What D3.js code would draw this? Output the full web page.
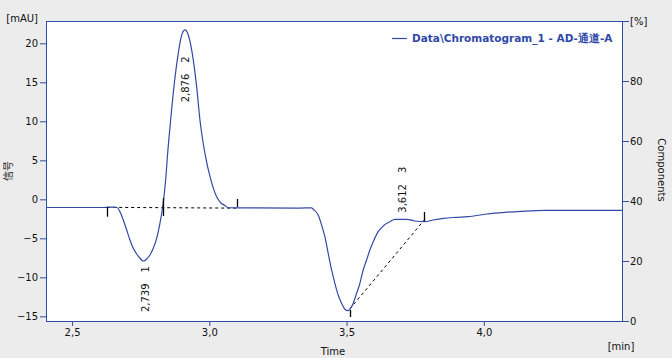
<!DOCTYPE html>
<html><head><meta charset="utf-8">
<script src="https://cdn.jsdelivr.net/npm/d3@7"></script>
<style>
html,body{margin:0;padding:0;background:#ececec;}
svg{display:block;}
text{font-family:"DejaVu Sans",sans-serif;}
</style></head><body>
<script>
// ---- data ----
const times = [2.405,2.602,2.649,2.664,2.6745,2.6865,2.6989,2.7109,2.7229,2.7353,2.7473,2.7593,2.7717,2.7837,2.7958,2.8081,2.8201,2.8300,2.8347,2.8409,2.8482,2.8591,2.8711,2.8868,2.8966,2.9112,2.9221,2.9378,2.9538,2.9658,2.9840,3.0059,3.0266,3.0423,3.0569,3.0678,3.1115,3.3300,3.3726,3.3784,3.3966,3.4090,3.4210,3.4330,3.4454,3.4574,3.4694,3.4818,3.4938,3.5058,3.5241,3.5365,3.5485,3.5605,3.5729,3.5849,3.5970,3.6152,3.6334,3.6577,3.6759,3.7186,3.7488,3.7852,3.8154,3.8519,3.9006,3.9418,4.0110,4.0765,4.1347,4.2221,4.506];
const signal = [-1.05,-1.05,-1.00,-1.05,-1.59,-2.65,-3.94,-5.22,-6.28,-7.01,-7.56,-7.91,-7.65,-7.14,-6.28,-5.00,-3.08,-0.95,0.33,2.47,5.90,10.17,14.44,18.72,20.68,21.71,21.19,18.72,14.44,10.17,5.90,2.47,0.33,-0.47,-0.79,-1.08,-1.10,-1.12,-1.10,-1.28,-2.01,-3.29,-4.79,-6.92,-9.06,-10.77,-12.27,-13.33,-14.10,-14.28,-13.33,-12.05,-10.77,-9.06,-7.78,-6.50,-5.44,-4.15,-3.42,-2.87,-2.56,-2.56,-2.78,-2.87,-2.65,-2.44,-2.31,-2.23,-1.88,-1.67,-1.54,-1.41,-1.41];

const xTicks = [2.5, 3.0, 3.5, 4.0];
const xTickLabels = ["2,5","3,0","3,5","4,0"];
const yTicks = [-15,-10,-5,0,5,10,15,20];
const y2Ticks = [0,20,40,60,80,100];
const y2TickLabels = ["0","20","40","60","80","[%]"];

// peak integration markers: time, top value, bottom value
const markerTimes = [2.628, 2.832, 3.100, 3.512, 3.783];
const markerTop    = [-0.99, 0.17, 0.04, -14.19, -1.63];
const markerBottom = [-2.23, -2.14, -0.99, -15.09, -2.78];

// baselines (dashed)
const baseline1 = [[2.628,-1.03],[3.100,-1.13]];
const baseline2 = [[3.512,-14.05],[3.783,-2.65]];

// peak labels
const peakRT = ["2,739","2,876","3,612"];
const peakIndex = ["1","2","3"];
const peakLabelTime = [2.7801, 2.9257, 3.716];
const peakLabelValue = [-14.45, 12.44, -1.72];

const legendLabel = "Data\\Chromatogram_1 - AD-通道-A";

// ---- chart ----
const W = 672, H = 358;
const L = 46, T = 21, R = 623, B = 321;
const blue = "#2f4ea8", curveCol = "#3449a6";

const svg = d3.select("body").append("svg").attr("width", W).attr("height", H);
svg.append("rect").attr("width", W).attr("height", H).attr("fill", "#ececec");
svg.append("rect").attr("x", L).attr("y", T).attr("width", R-L).attr("height", B-T).attr("fill", "#fff");

const x = d3.scaleLinear().domain([2.405, 4.507]).range([L, R]);
const y = d3.scaleLinear().domain([-15.6, 22.86]).range([B, T]);
const y2 = d3.scaleLinear().domain([0, 100]).range([B, T]);

// axes
const fs = "10px";
const xAxis = d3.axisBottom(x).tickValues(xTicks).tickFormat((d,i)=>xTickLabels[i]).tickSize(5).tickSizeOuter(0);
const gx = svg.append("g").attr("transform", `translate(0,${B})`).call(xAxis);
const yAxis = d3.axisLeft(y).tickValues(yTicks).tickSize(6).tickSizeOuter(0);
const gy = svg.append("g").attr("transform", `translate(${L},0)`).call(yAxis);
const y2Axis = d3.axisRight(y2).tickValues(y2Ticks).tickFormat((d,i)=>y2TickLabels[i]).tickSize(6).tickSizeOuter(0);
const gy2 = svg.append("g").attr("transform", `translate(${R},0)`).call(y2Axis);
[gx, gy, gy2].forEach(g => {
  g.select(".domain").remove();
  g.selectAll(".tick line").attr("stroke", blue);
  g.selectAll(".tick text").attr("fill", "#111").style("font-size", fs).style("font-family", "DejaVu Sans");
});
gx.selectAll(".tick text").attr("dy", "0.71em").attr("y", 8);
gy.selectAll(".tick text").attr("x", -8);
gy2.selectAll(".tick text").attr("x", 7);

// plot frame
svg.append("rect").attr("x", L+0.5).attr("y", T+0.5).attr("width", R-L-1).attr("height", B-T)
  .attr("fill", "none").attr("stroke", blue).attr("stroke-width", 1);

// clip
svg.append("clipPath").attr("id", "clip").append("rect").attr("x", L+1).attr("y", T+1).attr("width", R-L-2).attr("height", B-T-1);
const plot = svg.append("g").attr("clip-path", "url(#clip)");

// baselines
const bl = d3.line().x(d=>x(d[0])).y(d=>y(d[1]));
[baseline1, baseline2].forEach(b => {
  plot.append("path").attr("d", bl(b)).attr("fill","none").attr("stroke","#000")
    .attr("stroke-width",1).attr("stroke-dasharray","3,3");
});

// signal
const pts = times.map((t,i)=>[t, signal[i]]);
const line = d3.line().x(d=>x(d[0])).y(d=>y(d[1])).curve(d3.curveMonotoneX);
plot.append("path").attr("d", line(pts)).attr("fill","none").attr("stroke",curveCol).attr("stroke-width",1.2);

// markers
markerTimes.forEach((t,i)=>{
  plot.append("line").attr("x1", Math.round(x(t))+0.5).attr("x2", Math.round(x(t))+0.5)
    .attr("y1", y(markerTop[i])).attr("y2", y(markerBottom[i]))
    .attr("stroke","#000").attr("stroke-width",1.3);
});

// peak labels
peakRT.forEach((rt,i)=>{
  const px = x(peakLabelTime[i]), py = y(peakLabelValue[i]);
  const t = svg.append("text").attr("transform", `translate(${px},${py}) rotate(-90)`)
    .style("font-size", fs).attr("fill", "#111");
  t.append("tspan").text(rt);
  t.append("tspan").attr("dx", 11).text(peakIndex[i]);
});

// legend
svg.append("line").attr("x1", 392).attr("x2", 407).attr("y1", 38.5).attr("y2", 38.5).attr("stroke", curveCol).attr("stroke-width",1.2);
svg.append("text").attr("x", 412).attr("y", 42).text(legendLabel)
  .style("font-size","10.5px").style("font-weight","bold").attr("fill", "#3048a8");

// axis titles
svg.append("text").attr("x", 38).attr("y", 22).attr("text-anchor","end").style("font-size", fs).attr("fill","#111").text("[mAU]");
svg.append("text").attr("transform","translate(12,171) rotate(-90)").attr("text-anchor","middle")
  .style("font-size","10px").style("font-family","'Noto Sans CJK SC'").attr("fill","#111").text("信号");
svg.append("text").attr("transform","translate(658,170) rotate(90)").attr("text-anchor","middle")
  .style("font-size", fs).attr("fill","#111").text("Components");
svg.append("text").attr("x", 333).attr("y", 355).attr("text-anchor","middle").style("font-size", fs).attr("fill","#111").text("Time");
svg.append("text").attr("x", 621).attr("y", 350).attr("text-anchor","middle").style("font-size", fs).attr("fill","#111").text("[min]");
</script>
</body></html>
